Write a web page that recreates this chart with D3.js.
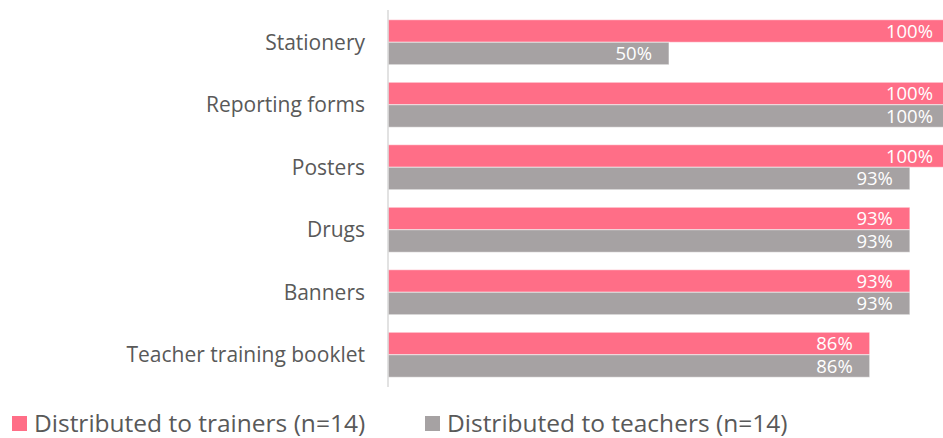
<!DOCTYPE html>
<html lang="en">
<head>
<meta charset="utf-8">
<title>Distribution of materials</title>
<script src="https://d3js.org/d3.v7.min.js"></script>
<style>
  body { margin: 0; background: #fff; }
  .cat { fill: #595959; font-family: "Open Sans", sans-serif; font-size: 21px; }
  .val { fill: #fff; font-family: "Open Sans", sans-serif; font-size: 18.5px; }
  .leg { fill: #595959; font-family: "Open Sans", sans-serif; font-size: 24.5px; }
</style>
</head>
<body>
<svg></svg>
<script>
const categories = ["Stationery", "Reporting forms", "Posters", "Drugs", "Banners", "Teacher training booklet"];
const trainers = [100, 100, 100, 92.86, 92.86, 85.71];
const teachers = [50, 100, 92.86, 92.86, 92.86, 85.71];
const seriesNames = ["Distributed to trainers (n=14)", "Distributed to teachers (n=14)"];
const colors = ["#ff6e87", "#a6a2a3"];

const width = 943, height = 438;
const svg = d3.select("svg").attr("width", width).attr("height", height);

const x = d3.scaleLinear().domain([0, 100]).range([388, 950]);
const y = d3.scaleBand().domain(categories).range([11, 386]).paddingInner(0.28).paddingOuter(0.14);
const sub = d3.scaleBand().domain([0, 1]).range([0, y.bandwidth()]);

const rows = categories.map((c, i) => ({ cat: c, vals: [trainers[i], teachers[i]] }));

const g = svg.selectAll("g.row")
  .data(rows)
  .enter()
  .append("g")
  .attr("class", "row")
  .attr("transform", d => "translate(0," + y(d.cat) + ")");

g.selectAll("rect")
  .data(d => d.vals)
  .enter()
  .append("rect")
  .attr("x", x(0))
  .attr("y", (d, i) => sub(i))
  .attr("width", d => x(d) - x(0))
  .attr("height", sub.bandwidth())
  .attr("fill", (d, i) => colors[i])
  .attr("stroke", "rgba(255,255,255,0.55)")
  .attr("stroke-width", 1);

g.selectAll("text.val")
  .data(d => d.vals)
  .enter()
  .append("text")
  .attr("class", "val")
  .attr("x", d => x(d) - 17)
  .attr("y", (d, i) => sub(i) + sub.bandwidth() / 2)
  .attr("dy", "0.36em")
  .attr("text-anchor", "end")
  .text(d => Math.round(d) + "%");

g.append("text")
  .attr("class", "cat")
  .attr("x", 365)
  .attr("y", y.bandwidth() / 2)
  .attr("dy", "0.36em")
  .attr("text-anchor", "end")
  .text(d => d.cat);

// axis line
svg.append("line")
  .attr("x1", x(0)).attr("x2", x(0))
  .attr("y1", 10).attr("y2", 387)
  .attr("stroke", "#d9d9d9")
  .attr("stroke-width", 1.5);

// legend
const legX = [12, 425];
const leg = svg.selectAll("g.leg")
  .data(seriesNames)
  .enter()
  .append("g")
  .attr("transform", (d, i) => "translate(" + legX[i] + ",416)");

leg.append("rect")
  .attr("width", 15).attr("height", 15)
  .attr("fill", (d, i) => colors[i]);

leg.append("text")
  .attr("class", "leg")
  .attr("x", 22)
  .attr("y", 7.5)
  .attr("dy", "0.34em")
  .text(d => d);
</script>
</body>
</html>
